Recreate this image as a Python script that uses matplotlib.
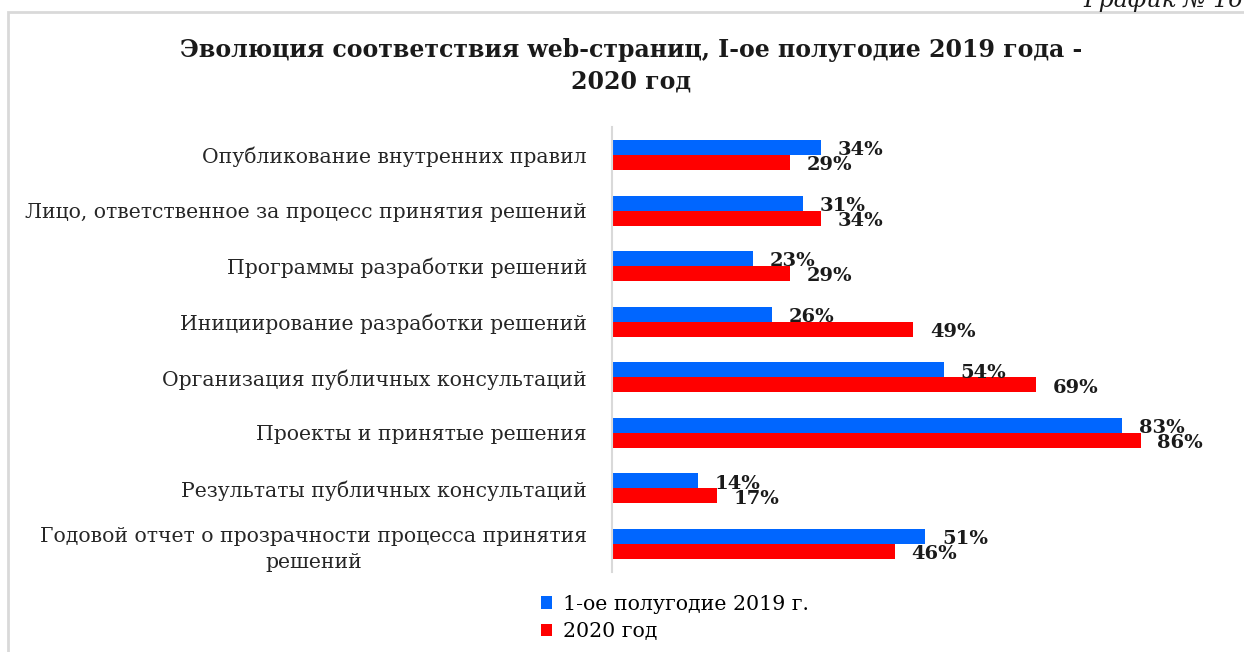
import matplotlib
matplotlib.use("Agg")
import matplotlib.pyplot as plt
import numpy as np
from matplotlib.patches import Rectangle

# data
categories = [
    "Опубликование внутренних правил",
    "Лицо, ответственное за процесс принятия решений",
    "Программы разработки решений",
    "Инициирование разработки решений",
    "Организация публичных консультаций",
    "Проекты и принятые решения",
    "Результаты публичных консультаций",
    "Годовой отчет о прозрачности процесса принятия\nрешений",
]
values_2019 = [0.34, 0.31, 0.23, 0.26, 0.54, 0.83, 0.14, 0.51]
values_2020 = [0.29, 0.34, 0.29, 0.49, 0.69, 0.86, 0.17, 0.46]
series_names = ["1-ое полугодие 2019 г.", "2020 год"]

BLUE = "#0066FF"
RED = "#FF0000"
SERIF = ["DejaVu Serif"]

fig = plt.figure(figsize=(12.44, 6.52), dpi=100)
ax = fig.add_axes([0.492, 0.123, 0.494, 0.682])

y = np.arange(len(categories))
h = 0.27
b1 = ax.barh(y - h / 2, values_2019, height=h, color=BLUE, label=series_names[0])
b2 = ax.barh(y + h / 2, values_2020, height=h, color=RED, label=series_names[1])

for bars, vals in [(b1, values_2019), (b2, values_2020)]:
    for bar, v in zip(bars, vals):
        ax.annotate(f"{v:.0%}", (bar.get_width(), bar.get_y() + bar.get_height() / 2),
                    xytext=(12, -2), textcoords="offset points", ha="left", va="center",
                    fontsize=14, fontweight="bold", family=SERIF, color="#1a1a1a")

ax.set_xlim(0, 1)
ax.set_ylim(len(categories) - 0.5, -0.5)
ax.set_yticks(y)
ax.set_yticklabels(categories, family=SERIF, fontsize=14.7, color="#262626",
                   multialignment="center", linespacing=1.45)
ax.tick_params(axis="y", length=0, pad=18)
ax.set_xticks([])
for s in ["top", "right", "bottom"]:
    ax.spines[s].set_visible(False)
ax.spines["left"].set_color("#d9d9d9")
ax.spines["left"].set_linewidth(1.5)

fig.text(0.507, 0.899, "Эволюция соответствия web-страниц, I-ое полугодие 2019 года -\n2020 год",
         ha="center", va="center", fontsize=17, fontweight="bold", family=SERIF,
         color="#1a1a1a", linespacing=1.4)

fig.text(0.871, 1 - 7 / 652, "График № 16", ha="left", va="baseline", fontsize=17,
         style="italic", family=SERIF, color="#1a1a1a")

# outer frame
fig.patches.append(Rectangle((0.0065, -0.1), 1.1, 1.1 - 12 / 652, transform=fig.transFigure,
                             fill=False, edgecolor="#d9d9d9", linewidth=2))

fig.legend(handles=[b1, b2], labels=series_names, loc="lower left",
           bbox_to_anchor=(0.42, -0.012), frameon=False, prop={"family": SERIF, "size": 14.8},
           handlelength=0.55, handleheight=0.55, handletextpad=0.5, labelspacing=0.42)

fig.savefig("out.png", dpi=100)
